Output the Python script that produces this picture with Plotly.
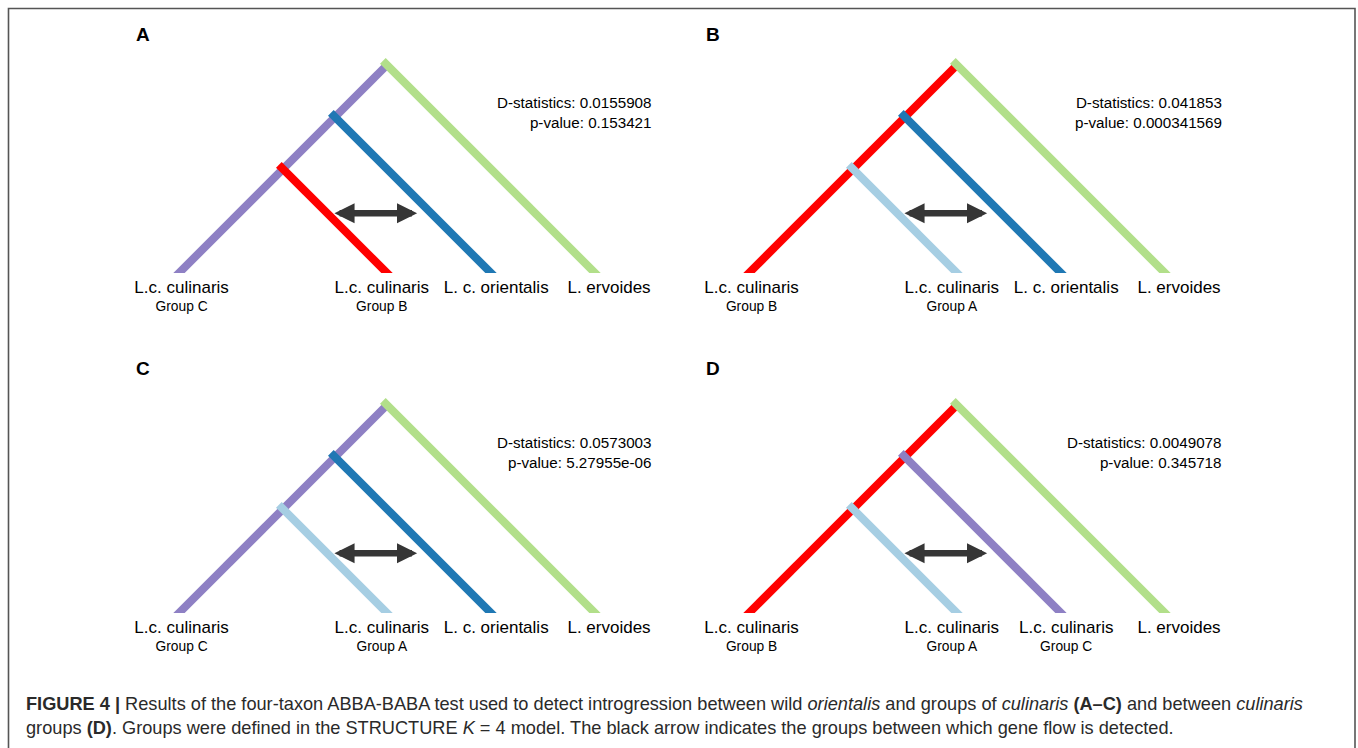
import plotly.graph_objects as go

# ---------------- data ----------------
panels = ["A", "B", "C", "D"]
# heights (in branch units) at which branches 2,3,4 join the trunk; leaf k sits at 2*h
join_heights = [2, 3, 4]
trunk_colors = ["#8E80C4", "#FF0000", "#8E80C4", "#FF0000"]
branch_colors = [
    ["#FF0000", "#1F78B4", "#B2DF8A"],
    ["#A6CEE3", "#1F78B4", "#B2DF8A"],
    ["#A6CEE3", "#1F78B4", "#B2DF8A"],
    ["#A6CEE3", "#8E80C4", "#B2DF8A"],
]
taxa = [
    ["L.c. culinaris", "L.c. culinaris", "L. c. orientalis", "L. ervoides"],
    ["L.c. culinaris", "L.c. culinaris", "L. c. orientalis", "L. ervoides"],
    ["L.c. culinaris", "L.c. culinaris", "L. c. orientalis", "L. ervoides"],
    ["L.c. culinaris", "L.c. culinaris", "L.c. culinaris", "L. ervoides"],
]
groups = [
    ["Group C", "Group B", "", ""],
    ["Group B", "Group A", "", ""],
    ["Group C", "Group A", "", ""],
    ["Group B", "Group A", "Group C", ""],
]
d_stats = ["0.0155908", "0.041853", "0.0573003", "0.0049078"]
p_values = ["0.153421", "0.000341569", "5.27955e-06", "0.345718"]
arrow_height = 1.15
arrow_span = [2.96, 4.58]

caption = ("<b>FIGURE 4 |</b> Results of the four-taxon ABBA-BABA test used to detect introgression "
           "between wild <i>orientalis</i> and groups of <i>culinaris</i> <b>(A–C)</b> and between "
           "<i>culinaris</i><br>groups <b>(D)</b>. Groups were defined in the STRUCTURE <i>K</i> = 4 "
           "model. The black arrow indicates the groups between which gene flow is detected.")

# ---------------- layout constants ----------------
W, H = 1358, 748
UNIT = 52.0
origins = [(179, 273), (749, 273), (179, 613), (749, 613)]
letter_pos = [(143, 35), (713, 35), (143, 368), (713, 368)]
label_dx = [0.05, -0.1, 0.1, 0.27]
EXT_TOP = 0.08
EXT_BOT = 0.2
LW = 8
FONT = "Liberation Sans, Arial, sans-serif"

fig = go.Figure()
annotations = []
layout_axes = {}

for i, name in enumerate(panels):
    ox, oy = origins[i]
    n = i + 1
    xa, ya, yl = ("x" if n == 1 else f"x{n}"), ("y" if n == 1 else f"y{n}"), f"y{n + 4}"
    xkey = "xaxis" if n == 1 else f"xaxis{n}"
    ykey = "yaxis" if n == 1 else f"yaxis{n}"
    lkey = f"yaxis{n + 4}"
    xlo, xhi = -60.0, 500.0
    ytop = 4.6
    layout_axes[xkey] = dict(domain=[(ox + xlo) / W, (ox + xhi) / W], range=[xlo / UNIT, xhi / UNIT],
                             visible=False, fixedrange=True, anchor=ya)
    layout_axes[ykey] = dict(domain=[1 - oy / H, 1 - (oy - ytop * UNIT) / H], range=[0, ytop],
                             visible=False, fixedrange=True, anchor=xa)
    # label strip directly below the tree, sharing the x scale
    layout_axes[lkey] = dict(domain=[1 - (oy + UNIT) / H, 1 - oy / H], range=[-1, 0],
                             visible=False, fixedrange=True, anchor=xa)

    root = max(join_heights)
    # trunk from root to leaf 1
    fig.add_trace(go.Scatter(x=[root, -EXT_BOT], y=[root, -EXT_BOT], mode="lines",
                             line=dict(color=trunk_colors[i], width=LW), xaxis=xa, yaxis=ya,
                             hoverinfo="skip", showlegend=False))
    leaf_x = [0.0]
    for k, h in enumerate(join_heights):
        lx = 2 * h
        leaf_x.append(lx)
        fig.add_trace(go.Scatter(x=[h - EXT_TOP, lx + EXT_BOT], y=[h + EXT_TOP, -EXT_BOT], mode="lines",
                                 line=dict(color=branch_colors[i][k], width=LW), xaxis=xa, yaxis=ya,
                                 hoverinfo="skip", showlegend=False))
    # taxon labels
    lxs = [lx + d for lx, d in zip(leaf_x, label_dx)]
    fig.add_trace(go.Scatter(x=lxs, y=[-0.30] * 4, mode="text", text=taxa[i],
                             textfont=dict(family=FONT, size=17, color="#000000"),
                             textposition="middle center", cliponaxis=False,
                             xaxis=xa, yaxis=yl, hoverinfo="skip", showlegend=False))
    fig.add_trace(go.Scatter(x=lxs, y=[-0.66] * 4, mode="text", text=groups[i],
                             textfont=dict(family=FONT, size=13.8, color="#000000"),
                             textposition="middle center", cliponaxis=False,
                             xaxis=xa, yaxis=yl, hoverinfo="skip", showlegend=False))
    # statistics text
    annotations.append(dict(x=9.13, y=3.08, xref=xa, yref=ya, xanchor="right", yanchor="middle",
                            align="right", showarrow=False,
                            text=f"D-statistics: {d_stats[i]}<br>p-value: {p_values[i]}",
                            font=dict(family=FONT, size=15.2, color="#000000")))
    # double-headed arrow
    annotations.append(dict(x=arrow_span[1], y=arrow_height, ax=arrow_span[0], ay=arrow_height,
                            xref=xa, yref=ya, axref=xa, ayref=ya, text="", showarrow=True,
                            arrowhead=2, startarrowhead=2, arrowside="end+start",
                            arrowsize=0.62, startarrowsize=0.62, arrowwidth=6.5,
                            arrowcolor="#363636"))
    # panel letter
    lx_, ly_ = letter_pos[i]
    annotations.append(dict(x=lx_ / W, y=1 - ly_ / H, xref="paper", yref="paper",
                            xanchor="center", yanchor="middle", showarrow=False, text=f"<b>{name}</b>",
                            font=dict(family=FONT, size=19, color="#000000")))

annotations.append(dict(x=24 / W, y=1 - 692 / H, xref="paper", yref="paper", xanchor="left",
                        yanchor="top", align="left", showarrow=False, text=caption,
                        font=dict(family=FONT, size=18.2, color="#2a2a2a")))

fig.update_layout(
    width=W, height=H, autosize=False,
    margin=dict(l=0, r=0, t=0, b=0),
    paper_bgcolor="#ffffff", plot_bgcolor="rgba(0,0,0,0)",
    annotations=annotations,
    shapes=[dict(type="rect", xref="paper", yref="paper", x0=8.5 / W, x1=1355 / W,
                 y0=-0.05, y1=1 - 8.5 / H, line=dict(color="#555555", width=1.6),
                 fillcolor="rgba(0,0,0,0)", layer="below")],
    **layout_axes,
)

fig.write_html("out.html", include_plotlyjs=True, config={"displayModeBar": False, "staticPlot": True},
               post_script="document.body.style.margin='0';document.body.style.overflow='hidden';")
